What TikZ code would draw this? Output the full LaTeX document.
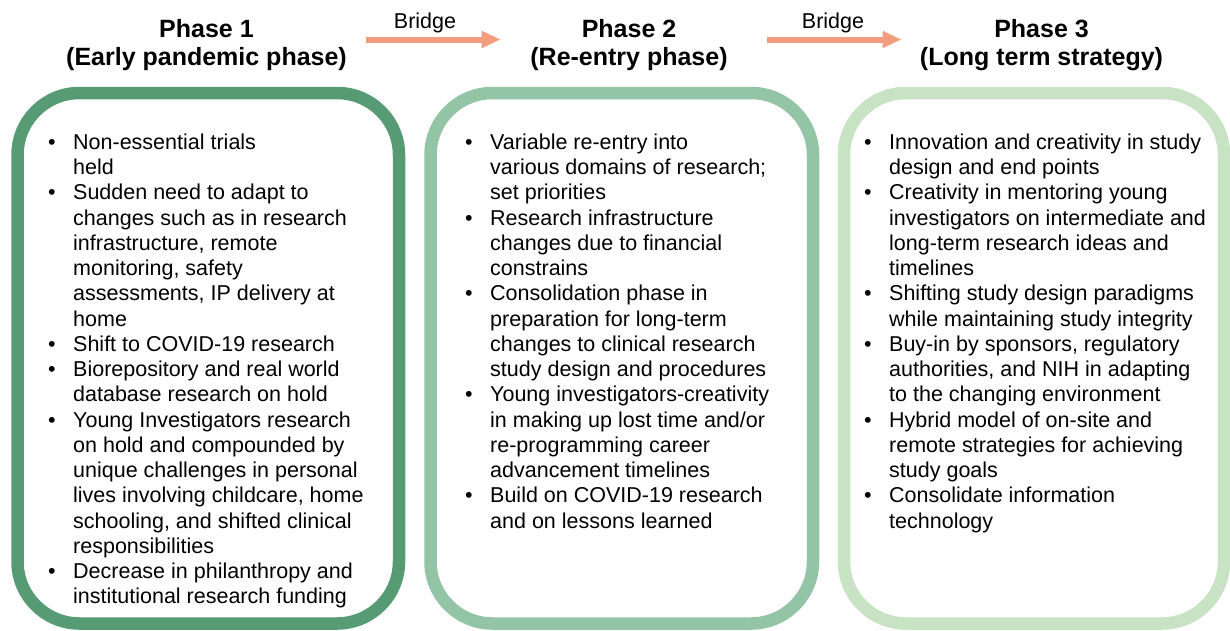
\documentclass[tikz,border=0pt]{standalone}
\usepackage{fontspec}
\setmainfont{Liberation Sans}
\usetikzlibrary{arrows.meta}
\definecolor{gA}{RGB}{86,155,115}
\definecolor{gB}{RGB}{147,196,165}
\definecolor{gC}{RGB}{200,227,196}
\definecolor{salmon}{RGB}{242,157,125}
\newcommand{\bul}{\makebox[25pt][l]{\textbullet}}
\begin{document}
\begin{tikzpicture}[x=1pt,y=-1pt,
  phasebox/.style={line width=12.5pt,rounded corners=62pt},
  title/.style={font=\fontsize{25}{28}\selectfont\bfseries,inner sep=0pt,anchor=base},
  bridgelbl/.style={font=\fontsize{21.5}{25}\selectfont,inner sep=0pt,anchor=base},
  bridgearrow/.style={salmon,line width=6pt,-{Triangle[length=19pt,width=16pt]}},
  itemlist/.style={inner sep=0pt,anchor=base west,font=\fontsize{21.5}{25.26}\selectfont}]
\useasboundingbox (0,0) rectangle (1230,630);
% boxes
\draw[phasebox,gA] (17.5,93) rectangle (399,623.5);
\draw[phasebox,gB] (430.5,93) rectangle (813,623.5);
\draw[phasebox,gC] (844,93) rectangle (1224,623.5);
% titles
\node[title] (t1a) at (206.5,37.3) {Phase 1};
\node[title] (t1b) at (206.5,65) {(Early pandemic phase)};
\node[title] (t2a) at (629,37.3) {Phase 2};
\node[title] (t2b) at (629,65) {(Re-entry phase)};
\node[title] (t3a) at (1041.5,37.3) {Phase 3};
\node[title] (t3b) at (1041.5,65) {(Long term strategy)};
% bridges
\node[bridgelbl] (b1) at (425,28.3) {Bridge};
\node[bridgelbl] (b2) at (833,28.3) {Bridge};
\coordinate (a1s) at (366,39.5);
\coordinate (a1e) at (500.7,39.5);
\coordinate (a2s) at (767,39.5);
\coordinate (a2e) at (901.5,39.5);
\draw[bridgearrow] (a1s) -- (a1e);
\draw[bridgearrow] (a2s) -- (a2e);
% lists
\node[itemlist] (l1) at (48,149.3) {\begin{tabular}[t]{@{}l@{}l@{}}
\bul & Non-essential trials\\
 & held\\
\bul & Sudden need to adapt to\\
 & changes such as in research\\
 & infrastructure, remote\\
 & monitoring, safety\\
 & assessments, IP delivery at\\
 & home\\
\bul & Shift to COVID-19 research\\
\bul & Biorepository and real world\\
 & database research on hold\\
\bul & Young Investigators research\\
 & on hold and compounded by\\
 & unique challenges in personal\\
 & lives involving childcare, home\\
 & schooling, and shifted clinical\\
 & responsibilities\\
\bul & Decrease in philanthropy and\\
 & institutional research funding
\end{tabular}};
\node[itemlist] (l2) at (465,149.3) {\begin{tabular}[t]{@{}l@{}l@{}}
\bul & Variable re-entry into\\
 & various domains of research;\\
 & set priorities\\
\bul & Research infrastructure\\
 & changes due to financial\\
 & constrains\\
\bul & Consolidation phase in\\
 & preparation for long-term\\
 & changes to clinical research\\
 & study design and procedures\\
\bul & Young investigators-creativity\\
 & in making up lost time and/or\\
 & re-programming career\\
 & advancement timelines\\
\bul & Build on COVID-19 research\\
 & and on lessons learned
\end{tabular}};
\node[itemlist] (l3) at (864,149.3) {\begin{tabular}[t]{@{}l@{}l@{}}
\bul & Innovation and creativity in study\\
 & design and end points\\
\bul & Creativity in mentoring young\\
 & investigators on intermediate and\\
 & long-term research ideas and\\
 & timelines\\
\bul & Shifting study design paradigms\\
 & while maintaining study integrity\\
\bul & Buy-in by sponsors, regulatory\\
 & authorities, and NIH in adapting\\
 & to the changing environment\\
\bul & Hybrid model of on-site and\\
 & remote strategies for achieving\\
 & study goals\\
\bul & Consolidate information\\
 & technology
\end{tabular}};
\end{tikzpicture}
\end{document}
